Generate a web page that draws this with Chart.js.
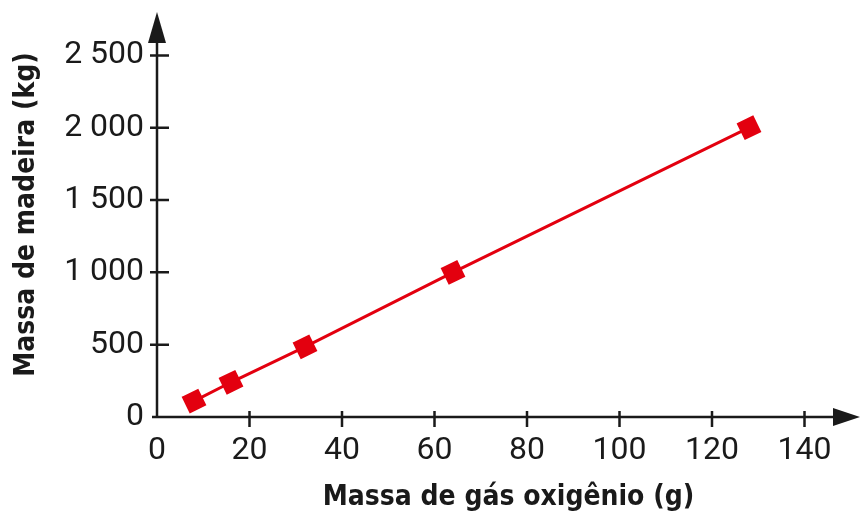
<!DOCTYPE html>
<html lang="pt">

<head>
    <meta charset="UTF-8">
    <title>Massa de madeira x massa de gás oxigênio</title>
    <script src="https://cdn.jsdelivr.net/npm/chart.js"></script>
    <style>
        body {
            margin: 0;
            background: #fff;
        }

        #wrap {
            width: 861px;
            height: 515px;
        }
    </style>
</head>

<body>
    <div id="wrap"><canvas id="grafico"></canvas></div>
    <script>
        // dados
        const massaOxigenio = [8, 16, 32, 64, 128];
        const massaMadeira = [110, 240, 485, 1000, 2000];
        const xTicks = [0, 20, 40, 60, 80, 100, 120, 140];
        const yTicks = [0, 500, 1000, 1500, 2000, 2500];
        const yTickLabels = ['0', '500', '1 000', '1 500', '2 000', '2 500'];

        const preto = '#1a1a1a';
        const vermelho = '#e3000f';
        const fonteNum = "Roboto, 'DejaVu Sans Condensed', sans-serif";
        const fonteTit = "'DejaVu Sans Condensed', sans-serif";

        // eixos com setas e marcas cruzadas
        const eixos = {
            id: 'eixos',
            afterDraw(chart) {
                const ctx = chart.ctx;
                const a = chart.chartArea;
                const x = chart.scales.x;
                const y = chart.scales.y;
                const x0 = x.getPixelForValue(0);
                const y0 = y.getPixelForValue(0);
                ctx.save();
                ctx.strokeStyle = preto;
                ctx.fillStyle = preto;
                ctx.lineWidth = 2.5;
                ctx.beginPath();
                ctx.moveTo(x0, y0);
                ctx.lineTo(x0, a.top + 20);
                ctx.moveTo(x0 - 5, y0);
                ctx.lineTo(a.right - 20, y0);
                xTicks.forEach(v => {
                    if (v === 0) return;
                    const px = x.getPixelForValue(v);
                    ctx.moveTo(px, y0 - 6);
                    ctx.lineTo(px, y0 + 10);
                });
                yTicks.forEach(v => {
                    if (v === 0) return;
                    const py = y.getPixelForValue(v);
                    ctx.moveTo(x0 - 7, py);
                    ctx.lineTo(x0 + 12, py);
                });
                ctx.stroke();
                // seta vertical
                ctx.beginPath();
                ctx.moveTo(x0, a.top);
                ctx.lineTo(x0 - 9, a.top + 31);
                ctx.lineTo(x0 + 9, a.top + 31);
                ctx.closePath();
                ctx.fill();
                // seta horizontal
                ctx.beginPath();
                ctx.moveTo(a.right, y0);
                ctx.lineTo(a.right - 27, y0 - 9);
                ctx.lineTo(a.right - 27, y0 + 9);
                ctx.closePath();
                ctx.fill();
                ctx.restore();
            }
        };

        new Chart(document.getElementById('grafico'), {
            type: 'scatter',
            data: {
                datasets: [{
                    data: massaOxigenio.map((m, i) => ({ x: m, y: massaMadeira[i] })),
                    showLine: true,
                    borderColor: vermelho,
                    backgroundColor: vermelho,
                    borderWidth: 3,
                    pointStyle: 'rect',
                    pointRadius: 11,
                    pointHoverRadius: 11,
                    pointRotation: -26
                }]
            },
            options: {
                responsive: true,
                maintainAspectRatio: false,
                animation: false,
                layout: { autoPadding: false, padding: { top: 12, right: 1 } },
                plugins: {
                    legend: { display: false },
                    tooltip: { enabled: false }
                },
                scales: {
                    x: {
                        type: 'linear',
                        min: 0,
                        max: 152,
                        border: { display: false },
                        grid: { display: false, drawTicks: false },
                        afterBuildTicks: s => { s.ticks = xTicks.map(v => ({ value: v })); },
                        afterFit: s => {
                            s.height = 98;
                            s.paddingLeft = 0;
                            s.paddingRight = 0;
                        },
                        ticks: {
                            color: preto,
                            padding: 15,
                            font: { family: fonteNum, size: 32 }
                        },
                        title: {
                            display: true,
                            text: 'Massa de gás oxigênio (g)',
                            color: preto,
                            padding: { top: 0, bottom: 0 },
                            font: { family: fonteTit, size: 28, weight: 'bold' }
                        }
                    },
                    y: {
                        type: 'linear',
                        min: 0,
                        max: 2800,
                        border: { display: false },
                        grid: { display: false, drawTicks: false },
                        afterBuildTicks: s => { s.ticks = yTicks.map(v => ({ value: v })); },
                        afterFit: s => {
                            s.width = 157;
                            s.paddingTop = 0;
                            s.paddingBottom = 0;
                        },
                        ticks: {
                            color: preto,
                            padding: 13,
                            font: { family: fonteNum, size: 32 },
                            callback: (v) => yTickLabels[yTicks.indexOf(v)]
                        },
                        title: {
                            display: true,
                            text: 'Massa de madeira (kg)',
                            color: preto,
                            padding: { top: 10, bottom: 0 },
                            font: { family: fonteTit, size: 28, weight: 'bold' }
                        }
                    }
                }
            },
            plugins: [eixos]
        });
    </script>
</body>

</html>
